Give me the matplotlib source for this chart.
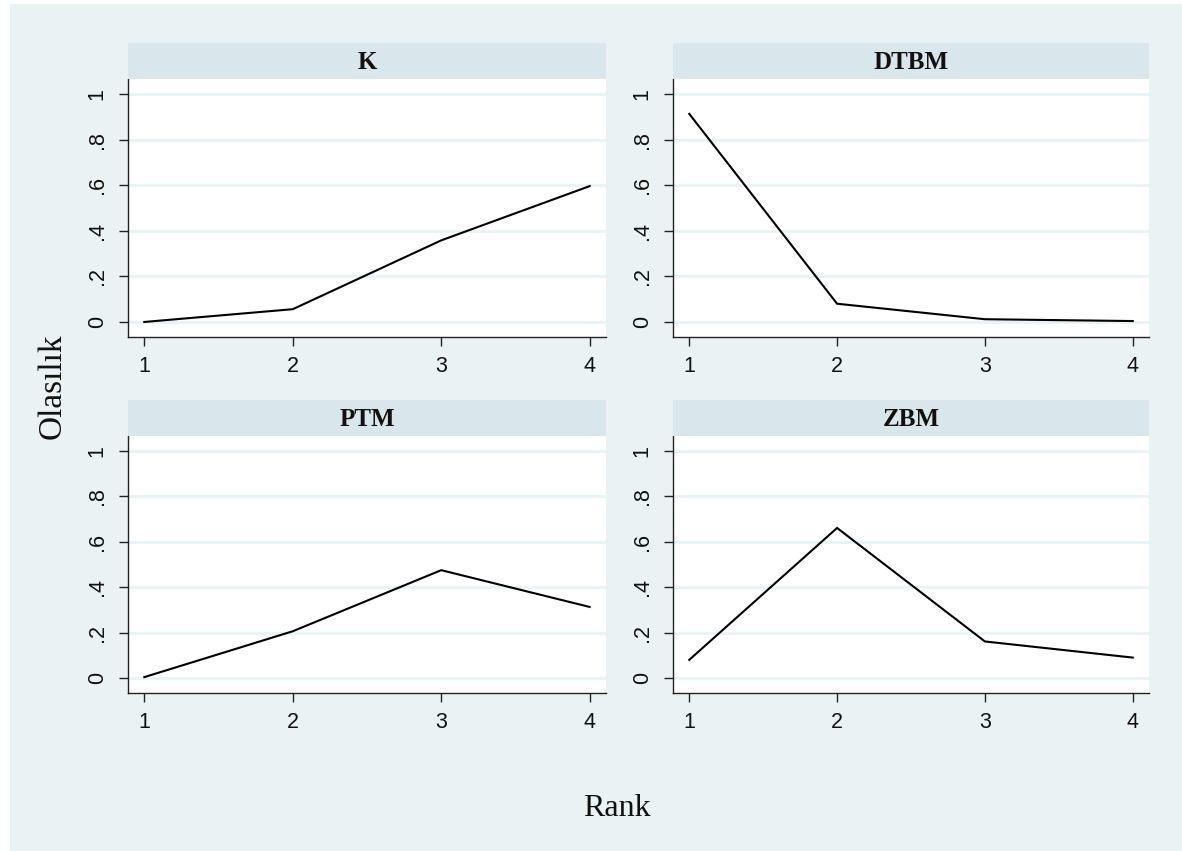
import matplotlib.pyplot as plt
from matplotlib.patches import Rectangle

# predicted probability of each rank, one list per model
ranks = [1, 2, 3, 4]
k_prob = [0.0, 0.056, 0.358, 0.596]
dtbm_prob = [0.913, 0.080, 0.012, 0.004]
ptm_prob = [0.004, 0.206, 0.475, 0.313]
zbm_prob = [0.080, 0.661, 0.161, 0.090]

panel_titles = ["K", "DTBM", "PTM", "ZBM"]
panel_values = [k_prob, dtbm_prob, ptm_prob, zbm_prob]

y_ticks = [0, 0.2, 0.4, 0.6, 0.8, 1.0]
y_tick_labels = ["0", ".2", ".4", ".6", ".8", "1"]

bg_color = "#eaf2f3"
strip_color = "#d9e6eb"
axis_color = "#222222"

W, H = 1182, 851
fig = plt.figure(figsize=(W / 100, H / 100), dpi=100, facecolor="white")

# graph region background
fig.patches.append(Rectangle((10 / W, 0), 1 - 10 / W, 1 - 4 / H,
                             transform=fig.transFigure, facecolor=bg_color,
                             edgecolor="none", zorder=-10))

# pixel boxes (left, top, right, bottom) for each plot region
cols = [(128, 606), (673, 1149)]
rows = [(79, 337), (436, 693)]
strip_h = 36

for idx, (title, vals) in enumerate(zip(panel_titles, panel_values)):
    r, c = divmod(idx, 2)
    x0, x1 = cols[c]
    y0, y1 = rows[r]
    ax = fig.add_axes([x0 / W, 1 - y1 / H, (x1 - x0) / W, (y1 - y0) / H])
    ax.set_facecolor("white")
    ax.plot(ranks, vals, color="black", lw=1.5, solid_joinstyle="miter", zorder=3)
    ax.set_xlim(0.89, 4.11)
    ax.set_ylim(-0.066, 1.066)
    ax.set_xticks(ranks)
    ax.set_yticks(y_ticks)
    ax.set_yticklabels(y_tick_labels, rotation=90, va="center")
    ax.grid(axis="y", color=bg_color, lw=2.0, zorder=1)
    ax.set_axisbelow(True)
    for side in ["top", "right"]:
        ax.spines[side].set_visible(False)
    for side in ["left", "bottom"]:
        ax.spines[side].set_color(axis_color)
        ax.spines[side].set_linewidth(1.0)
    ax.tick_params(axis="both", length=6.5, width=1.0, color=axis_color,
                   labelsize=15.5, labelcolor="#111111")
    ax.tick_params(axis="x", pad=7)
    ax.tick_params(axis="y", pad=8)
    for lab in ax.get_xticklabels() + ax.get_yticklabels():
        lab.set_fontfamily("Liberation Sans")

    # title strip above the plot
    sax = fig.add_axes([x0 / W, 1 - y0 / H, (x1 - x0) / W, strip_h / H])
    sax.set_facecolor(strip_color)
    sax.set_xticks([])
    sax.set_yticks([])
    for s in sax.spines.values():
        s.set_visible(False)
    sax.text(0.5, 0.47, title, ha="center", va="center", fontsize=18,
             fontweight="bold", family="Liberation Serif", color="#111111",
             transform=sax.transAxes)

fig.text(52 / W, 1 - 386 / H, "Olasılık", rotation=90, ha="center", va="center",
         fontsize=24, family="Liberation Serif", color="#111111")
fig.text(617 / W, 1 - 808 / H, "Rank", ha="center", va="center",
         fontsize=23, family="Liberation Serif", color="#111111")

fig.savefig("out.png", dpi=100, facecolor="white")
